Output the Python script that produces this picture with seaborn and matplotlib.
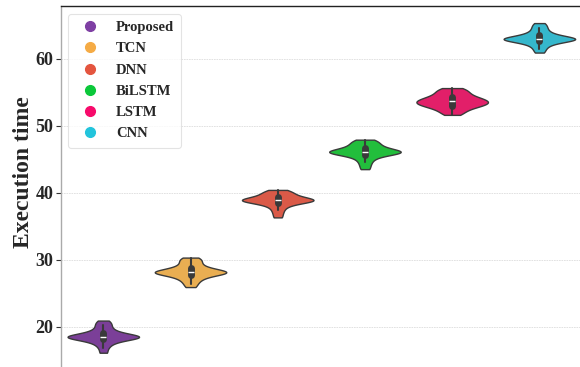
import numpy as np
import pandas as pd
import matplotlib
matplotlib.use("Agg")
import matplotlib.pyplot as plt
from matplotlib.lines import Line2D
import seaborn as sns

models = ["Proposed", "TCN", "DNN", "BiLSTM", "LSTM", "CNN"]
proposed = [16.1, 16.8, 17.3, 17.6, 17.85, 18.0, 18.15, 18.25, 18.32, 18.38, 18.42, 18.46, 18.5,
            18.55, 18.6, 18.68, 18.78, 18.9, 19.05, 19.25, 19.5, 19.8, 20.2, 20.5, 20.9]
tcn = [25.9, 26.4, 26.8, 27.1, 27.35, 27.55, 27.7, 27.82, 27.92, 28.0, 28.05, 28.1, 28.15,
       28.2, 28.27, 28.35, 28.45, 28.6, 28.75, 28.95, 29.2, 29.5, 29.8, 30.05, 30.3]
dnn = [36.3, 36.9, 37.4, 37.8, 38.1, 38.3, 38.45, 38.57, 38.66, 38.73, 38.79, 38.84, 38.88,
       38.93, 38.99, 39.06, 39.15, 39.25, 39.38, 39.52, 39.68, 39.85, 40.02, 40.2, 40.4]
bilstm = [43.5, 44.1, 44.6, 45.0, 45.3, 45.52, 45.68, 45.8, 45.88, 45.95, 46.0, 46.05, 46.1,
          46.16, 46.23, 46.32, 46.42, 46.55, 46.7, 46.88, 47.06, 47.26, 47.48, 47.7, 47.9]
lstm = [51.6, 51.95, 52.25, 52.5, 52.7, 52.85, 52.98, 53.1, 53.2, 53.3, 53.4, 53.5, 53.6,
        53.7, 53.8, 53.9, 54.02, 54.15, 54.3, 54.47, 54.67, 54.9, 55.12, 55.36, 55.6]
cnn = [60.9, 61.4, 61.8, 62.1, 62.32, 62.48, 62.6, 62.7, 62.77, 62.83, 62.88, 62.92, 62.96,
       63.01, 63.07, 63.14, 63.23, 63.35, 63.5, 63.68, 63.9, 64.2, 64.55, 64.9, 65.3]
yticks = [20, 30, 40, 50, 60]

violin_colors = ["#7B3F98", "#E9AE52", "#DA5A48", "#22BE3C", "#E21F69", "#35B7CC"]
legend_colors = ["#7E3FA3", "#F5AB45", "#E4553F", "#0BC83A", "#F70A6B", "#22C4DC"]

series = [proposed, tcn, dnn, bilstm, lstm, cnn]
df = pd.DataFrame({
    "Model": np.repeat(models, [len(s) for s in series]),
    "Execution time": np.concatenate(series),
})

sns.set_theme(style="whitegrid")
serif = ["Liberation Serif", "DejaVu Serif"]
plt.rcParams["font.family"] = serif
plt.rcParams["font.weight"] = "bold"

fig = plt.figure(figsize=(5.8, 3.67), dpi=100)
ax = fig.add_axes([61 / 580, 1 - 373.5 / 367, 522 / 580, 367.5 / 367])

sns.violinplot(data=df, x="Model", y="Execution time", hue="Model",
               order=models, hue_order=models, palette=violin_colors,
               saturation=1, cut=0, width=0.82, linewidth=1.0, bw_adjust=0.7,
               linecolor="#3a3a3a", legend=False, ax=ax,
               inner_kws={"box_width": 5, "whis_width": 1.5})

ax.set_xlim(-0.485, 5.5)
ax.set_ylim(13, 67.85)
ax.set_yticks(yticks)
ax.set_yticklabels([str(t) for t in yticks], fontsize=13, fontweight="bold", family=serif)
ax.set_xticks([])
ax.set_xlabel("")
ax.set_ylabel("Execution time", fontsize=17, fontweight="bold", family=serif)
ax.yaxis.set_label_coords(-0.051, 0.548)
ax.tick_params(axis="y", left=True, length=3.5, width=0.8, color="#333333", pad=2)
ax.grid(axis="y", color="#dddddd", linewidth=0.6, linestyle=(0, (2, 1)))
ax.grid(axis="x", visible=False)
ax.spines["left"].set_color("#aaaaaa")
ax.spines["left"].set_linewidth(1.0)
ax.spines["top"].set_color("#222222")
ax.spines["top"].set_linewidth(1.0)

handles = [Line2D([0], [0], marker="o", linestyle="", markersize=7,
                  markerfacecolor=c, markeredgecolor=c) for c in legend_colors]
leg = ax.legend(handles, models, loc="upper left", bbox_to_anchor=(-0.001, 0.999),
                prop={"family": serif, "weight": "bold", "size": 10.5},
                frameon=True, labelspacing=0.55, handletextpad=0.8,
                borderpad=0.5, handlelength=2.0)
leg.get_frame().set_edgecolor("#dddddd")
leg.get_frame().set_linewidth(0.8)

fig.savefig("out.png", dpi=100)
